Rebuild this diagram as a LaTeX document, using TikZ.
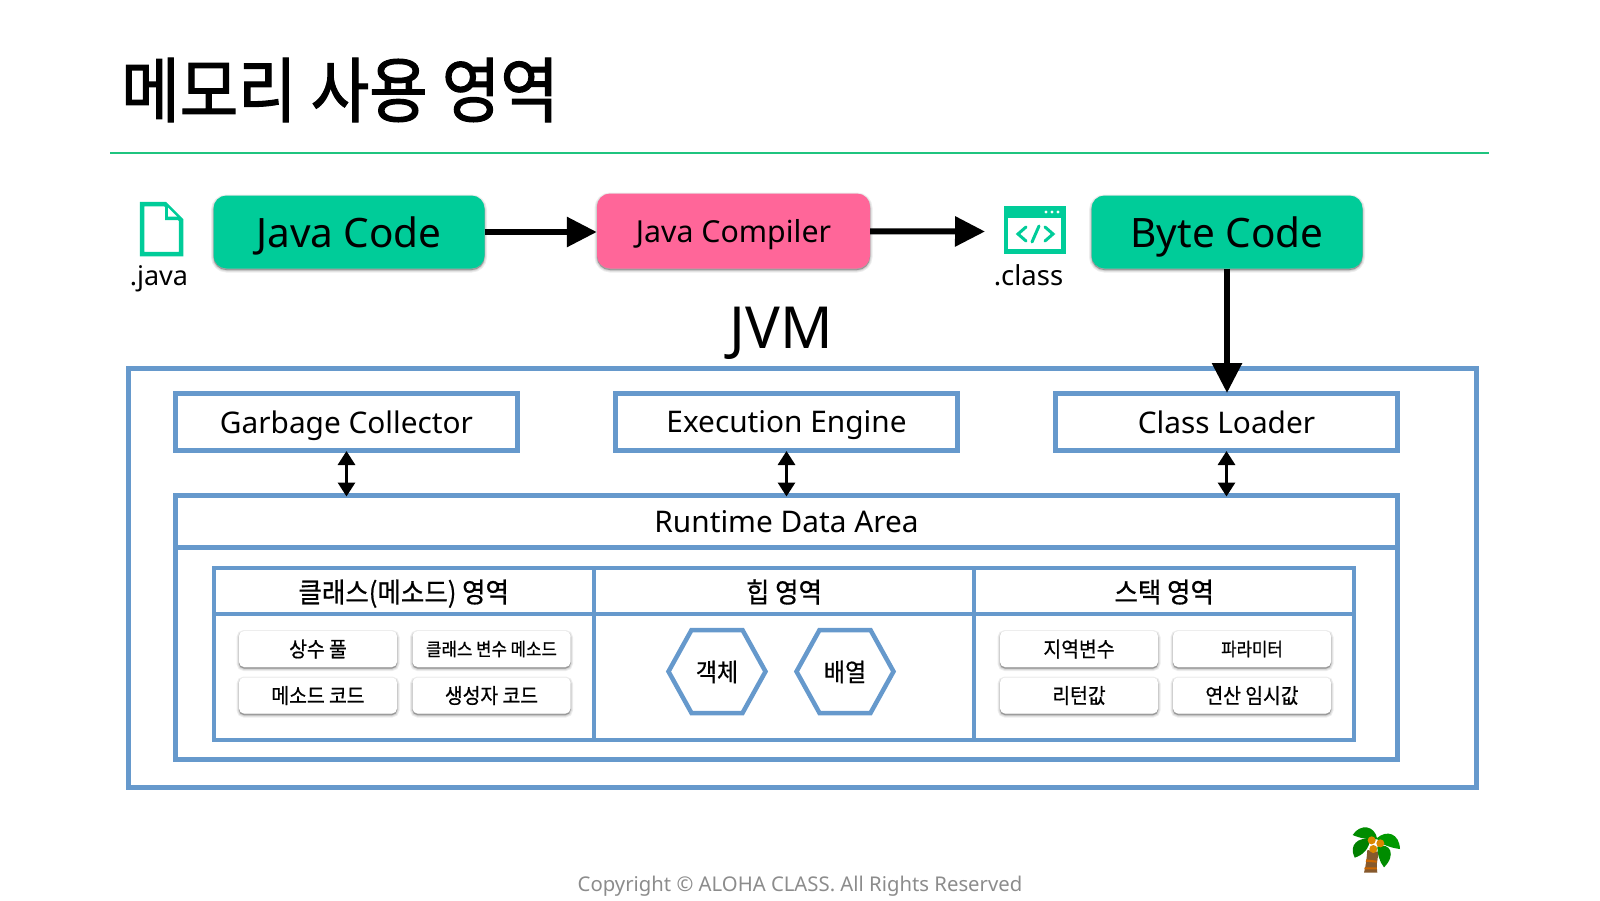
\documentclass[tikz,border=0pt]{standalone}
\usepackage{fontspec}
\setmainfont{Noto Sans}
\newfontfamily\krfont[FakeStretch=.92,FakeBold=.6]{Noto Sans CJK KR}
\newfontfamily\krtitle[FakeStretch=.895,FakeBold=1.6]{Noto Sans CJK KR}
\usetikzlibrary{arrows.meta,shadows}
\definecolor{codegreen}{HTML}{00CC99}
\definecolor{comppink}{HTML}{FF6699}
\definecolor{areablue}{HTML}{6699CC}
\definecolor{ruleline}{HTML}{1FC47F}
\definecolor{footgray}{HTML}{8C8C8C}
\newcommand{\fsz}[1]{\fontsize{#1}{#1}\selectfont}
\tikzset{
  softlayer/.style={general shadow={shadow xshift=0pt,shadow yshift=-1.5pt,draw=black,fill=black,line width=#1,opacity=.07}},
  softshadow/.style={softlayer=5pt,softlayer=3pt,softlayer=1.5pt,softlayer=.4pt},
  codebox/.style={rounded corners=13pt,fill=codegreen,minimum width=271pt,minimum height=73pt,
    softshadow,text depth=0pt,font=\fsz{40.5}},
  areabox/.style={draw=areablue,line width=5pt,minimum width=342pt,minimum height=57pt,text depth=0pt,font=\fsz{29.8}},
  cellbox/.style={draw=areablue,line width=4pt,minimum width=380pt},
  cardbox/.style={rounded corners=5pt,fill=white,minimum width=158pt,minimum height=36pt,softshadow},
  bigarrow/.style={line width=6pt,-{Triangle[length=30pt,width=29pt]}},
  bothways/.style={line width=3pt,shorten <=-2pt,shorten >=-3.5pt,{Triangle[length=14pt,width=17pt]}-{Triangle[length=14pt,width=17pt]}},
}
\begin{document}
\begin{tikzpicture}[x=1pt,y=-1pt]
\useasboundingbox (0,0) rectangle (1600,900);
% heading
\node (title) [anchor=west,inner sep=0pt,font=\krtitle\fsz{71}] at (121,90) {메모리 사용 영역};
\coordinate (ruleL) at (110,153);
\coordinate (ruleR) at (1489,153);
\draw[ruleline,line width=1.6pt] (ruleL)--(ruleR);
% top row
\node (javacode) [codebox] at (349,232) {Java Code};
\node (compiler) [codebox,fill=comppink,minimum width=273pt,minimum height=75pt,font=\fsz{30.3}] at (733.5,231) {Java Compiler};
\node (bytecode) [codebox] at (1227,232) {Byte Code};
\coordinate (classtip) at (985,231.5);
\node (javalabel) [text depth=0pt,font=\fsz{27}] at (159,275.5) {.java};
\node (classlabel) [text depth=0pt,font=\fsz{27.5}] at (1028.5,275) {.class};
% file icon
\draw[codegreen,line width=4.5pt,miter limit=4] (142,204)--(165,204)--(181,220)--(181,254)--(142,254)--cycle;
\fill[codegreen] (165,204)--(181,220)--(165,220)--cycle;
\fill[white] (168,207.5)--(177,216.5)--(168,216.5)--cycle;
% class icon
\fill[codegreen] (1003.5,206) rectangle (1066,254);
\fill[white] (1008,218) rectangle (1061,249);
\foreach \dotx in {1046,1052,1058} \fill[white] (\dotx,212) circle (1.7);
\draw[codegreen,line width=3pt,line cap=round] (1026,227)--(1018,234)--(1026,241);
\draw[codegreen,line width=3pt,line cap=round] (1045,227)--(1053,234)--(1045,241);
\draw[codegreen,line width=3pt,line cap=round] (1039,226)--(1032,242);
% jvm
\node (jvmlabel) [text depth=0pt,font=\fsz{58}] at (781,328) {JVM};
\node (jvmbox) [areabox,minimum width=1347.5pt,minimum height=418.5pt] at (802.25,577.75) {};
\node (gc) [areabox] at (346.5,422) {Garbage Collector};
\node (engine) [areabox] at (786.5,422) {Execution Engine};
\node (loader) [areabox] at (1226.5,422) {Class Loader};
\node (rthead) [areabox,minimum width=1222pt,minimum height=51.5pt] at (786.5,521.25) {Runtime Data Area};
\node (rtbody) [areabox,minimum width=1222pt,minimum height=212pt] at (786.5,653) {};
% three columns
\foreach \colx/\colname/\coltxt in {403.75/method/클래스(메소드) 영역,784/heap/힙 영역,1164.25/stack/스택 영역}{
  \node (\colname head) [cellbox,minimum height=45.5pt,text depth=0pt,font=\krfont\fsz{27.7}] at (\colx,591) {\coltxt};
  \node (\colname body) [cellbox,minimum height=126pt] at (\colx,677) {};
}
% small cards
\foreach \cardx/\cardy/\cardname/\cardtxt/\cardsz in {
  318/649/pool/상수 풀/21,491.5/649/classvar/클래스 변수 메소드/18.2,
  318/695.5/code/메소드 코드/21,491.5/695.5/ctor/생성자 코드/21,
  1079/649/local/지역변수/21,1252/649/param/파라미터/18.2,
  1079/695.5/ret/리턴값/21,1252/695.5/temp/연산 임시값/21}{
  \node (\cardname) [cardbox,font=\krfont\fsz{\cardsz}] at (\cardx,\cardy) {\cardtxt};
}
% hexagons
\foreach \hexx/\hexname/\hextxt in {717/object/객체,845/array/배열}{
  \draw[areablue,line width=4.5pt] (\hexx-48.5,671.5)--(\hexx-25.5,630)--(\hexx+25.5,630)--(\hexx+48.5,671.5)--(\hexx+25.5,713)--(\hexx-25.5,713)--cycle;
  \node (\hexname) [font=\krfont\fsz{25}] at (\hexx,672) {\hextxt};
}
% arrows
\draw[bigarrow] (javacode.east)--(javacode.east -| compiler.west);
\draw[bigarrow] (compiler)--(classtip);
\draw[bigarrow,shorten >=-2pt] (bytecode.south)--(bytecode.south |- loader.north);
\draw[bothways] (gc)--(gc |- rthead.north);
\draw[bothways] (engine)--(engine |- rthead.north);
\draw[bothways] (loader)--(loader |- rthead.north);
% palm
\begin{scope}[shift={(1280,790)},x=.3333pt,y=-.3333pt]
\fill[brown!70!black] (262,180)--(298,186) .. controls (290,210) and (289,230) .. (292,248)--(252,248) .. controls (258,225) and (260,205) .. (262,180)--cycle;
\fill[orange!80!black] (259,208)--(290,212)--(290,218)--(257,215)--cycle;
\fill[orange!80!black] (254,232)--(290,232)--(291,238)--(253,238)--cycle;
\fill[green!55!black] (218,135) .. controls (240,100) and (285,105) .. (292,148) .. controls (270,150) and (240,145) .. (218,135)--cycle;
\fill[green!50!black] (224,203) .. controls (205,165) and (235,140) .. (270,148) .. controls (268,175) and (250,195) .. (224,203)--cycle;
\fill[green!60!black] (290,145) .. controls (320,118) and (358,130) .. (360,177) .. controls (340,175) and (300,165) .. (290,145)--cycle;
\fill[green!55!black] (292,170) .. controls (330,155) and (350,195) .. (312,232) .. controls (298,215) and (292,190) .. (292,170)--cycle;
\fill[orange!75!yellow!85!black] (275,151) circle (12);
\fill[orange!75!yellow!85!black] (301,160) circle (12);
\fill[orange!75!yellow!85!black] (280,177) circle (12);
\end{scope}
% footer
\node (footer) [footgray,text depth=0pt,font=\fsz{20.3}] at (800,884) {Copyright © ALOHA CLASS. All Rights Reserved};
\end{tikzpicture}
\end{document}
